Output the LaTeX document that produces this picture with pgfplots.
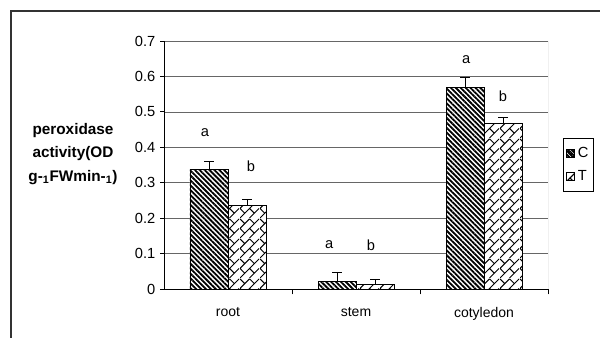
\documentclass[border=0pt]{standalone}
\usepackage{fontspec}
\setmainfont{Liberation Sans}
\usepackage{pgfplots}
\pgfplotsset{compat=1.18}
\usepackage{pgfplotstable}
\usetikzlibrary{patterns,patterns.meta}

\pgfdeclarepatternformonly{diagbrick}{\pgfqpoint{0pt}{0pt}}{\pgfqpoint{15pt}{15pt}}{\pgfqpoint{15pt}{15pt}}{%
 \pgfsetlinewidth{0.75pt}%
 \pgfpathmoveto{\pgfqpoint{0pt}{0pt}}\pgfpathlineto{\pgfqpoint{15pt}{15pt}}%
 \pgfpathmoveto{\pgfqpoint{0pt}{7.5pt}}\pgfpathlineto{\pgfqpoint{7.5pt}{15pt}}%
 \pgfpathmoveto{\pgfqpoint{7.5pt}{0pt}}\pgfpathlineto{\pgfqpoint{15pt}{7.5pt}}%
 \pgfpathmoveto{\pgfqpoint{7.5pt}{7.5pt}}\pgfpathlineto{\pgfqpoint{11.25pt}{3.75pt}}%
 \pgfpathmoveto{\pgfqpoint{0pt}{15pt}}\pgfpathlineto{\pgfqpoint{3.75pt}{11.25pt}}%
 \pgfpathmoveto{\pgfqpoint{0pt}{7.5pt}}\pgfpathlineto{\pgfqpoint{3.75pt}{3.75pt}}%
 \pgfpathmoveto{\pgfqpoint{7.5pt}{15pt}}\pgfpathlineto{\pgfqpoint{11.25pt}{11.25pt}}%
 \pgfusepath{stroke}}

\pgfplotstableread{
x c ce t te
0 0.338 0.023 0.237 0.016
1 0.022 0.026 0.014 0.014
2 0.569 0.028 0.468 0.015
}\datatable

\begin{document}
\begin{tikzpicture}
\useasboundingbox (0,0) rectangle (450pt,253.5pt);
\fill[white] (0,0) rectangle (450pt,253.5pt);
\draw[black!80, line width=1.2pt] (8.25pt,-2pt) -- (8.25pt,245.25pt) -- (452pt,245.25pt);
\begin{axis}[
  at={(123pt,36.75pt)}, anchor=south west,
  scale only axis, width=288pt, height=186pt,
  xmin=-0.5, xmax=2.5, ymin=0, ymax=0.7,
  ybar=0pt, bar width=28.5pt,
  axis x line*=bottom, axis y line*=left,
  axis line style={-, black, line width=0.7pt},
  xtick={0,1,2}, xticklabels={root,stem,cotyledon},
  minor xtick={0.5,1.5,2.5},
  major x tick style={draw=none},
  minor x tick style={black, line width=0.6pt},
  ytick={0,0.1,0.2,0.3,0.4,0.5,0.6,0.7},
  y tick style={black, line width=0.6pt},
  tick align=outside, major tick length=3pt, minor tick length=4pt,
  ymajorgrids, major grid style={black!60, line width=0.5pt},
  x tick label style={yshift=-7pt, font=\fontsize{10.5}{12}\selectfont},
  y tick label style={font=\fontsize{11}{12}\selectfont},
  /pgf/number format/.cd, fixed, precision=1, assume math mode=true,
  /pgfplots/.cd,
  legend style={at={(1.039,0.391)}, anchor=south west, draw=black, line width=0.6pt,
    font=\fontsize{11}{12}\selectfont, row sep=4pt, inner xsep=2pt, inner ysep=5pt,
    legend cell align=left},
]
\addplot[draw=black, line width=0.6pt, fill=white,
  postaction={pattern={Lines[angle=-45,distance=2.6pt,line width=1.35pt]}},
  error bars/.cd, y dir=plus, y explicit,
  error bar style={black, line width=0.6pt},
  error mark options={black, rotate=90, mark size=3.75pt, line width=0.6pt},
  /pgfplots/legend image code/.code={\draw[draw=black, line width=0.5pt, fill=white, postaction={pattern={Lines[angle=-45,distance=1.8pt,line width=0.9pt]}}] (0pt,-3pt) rectangle (6pt,3pt);}
] table[x=x, y=c, y error=ce] {\datatable};
\addplot[draw=black, line width=0.6pt, fill=white,
  postaction={pattern=diagbrick},
  error bars/.cd, y dir=plus, y explicit,
  error bar style={black, line width=0.6pt},
  error mark options={black, rotate=90, mark size=3.75pt, line width=0.6pt},
  /pgfplots/legend image code/.code={\draw[draw=black, line width=0.5pt, fill=white, postaction={pattern=diagbrick}] (0pt,-3pt) rectangle (6pt,3pt);}
] table[x=x, y=t, y error=te] {\datatable};
\legend{C,T}
\draw[black!45, line width=0.6pt] (rel axis cs:1,0) -- (rel axis cs:1,1);
\node[font=\fontsize{11}{12}\selectfont] at (axis cs:-0.18,0.442) {a};
\node[font=\fontsize{11}{12}\selectfont] at (axis cs:0.18,0.346) {b};
\node[font=\fontsize{11}{12}\selectfont] at (axis cs:0.79,0.124) {a};
\node[font=\fontsize{11}{12}\selectfont] at (axis cs:1.117,0.124) {b};
\node[font=\fontsize{11}{12}\selectfont] at (axis cs:1.86,0.648) {a};
\node[font=\fontsize{11}{12}\selectfont] at (axis cs:2.148,0.544) {b};
\end{axis}
\node[align=center, font=\bfseries\fontsize{11.5}{17.5}\selectfont] at (54.75pt,138pt)
  {peroxidase\\activity(OD\\g-\textsubscript{1}FWmin-\textsubscript{1})};
\end{tikzpicture}
\end{document}
